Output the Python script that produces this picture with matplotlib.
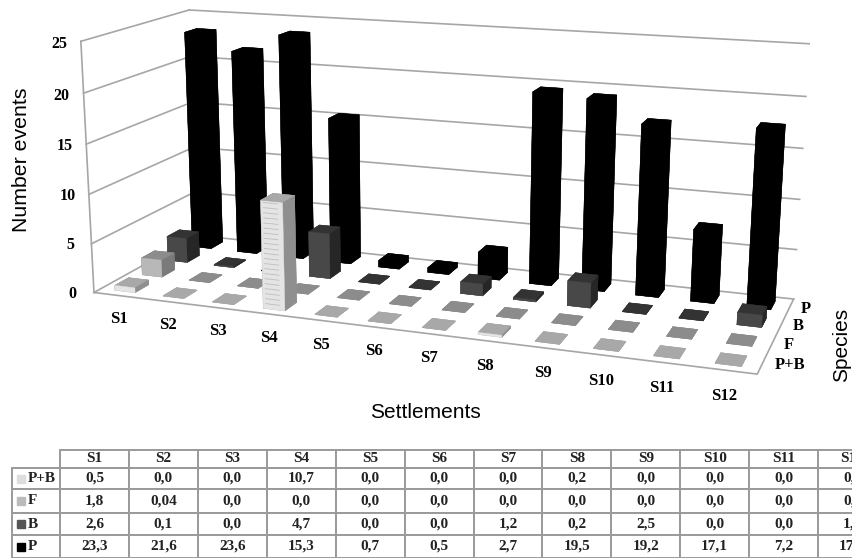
import numpy as np
import matplotlib
matplotlib.use('Agg')
import matplotlib.pyplot as plt
from matplotlib.patches import Rectangle

settlements = ['S1', 'S2', 'S3', 'S4', 'S5', 'S6', 'S7', 'S8', 'S9', 'S10', 'S11', 'S12']
species = ['P+B', 'F', 'B', 'P']

p_b = ['0,5', '0,0', '0,0', '10,7', '0,0', '0,0', '0,0', '0,2', '0,0', '0,0', '0,0', '0,0']
f = ['1,8', '0,04', '0,0', '0,0', '0,0', '0,0', '0,0', '0,0', '0,0', '0,0', '0,0', '0,0']
b = ['2,6', '0,1', '0,0', '4,7', '0,0', '0,0', '1,2', '0,2', '2,5', '0,0', '0,0', '1,2']
p = ['23,3', '21,6', '23,6', '15,3', '0,7', '0,5', '2,7', '19,5', '19,2', '17,1', '7,2', '17,5']
table_rows = [p_b, f, b, p]

z_ticks = [0, 5, 10, 15, 20, 25]

# face colours of each species: front, top, right side
front_colors = ['#e4e4e4', '#b8b8b8', '#484848', '#000000']
top_colors = ['#a8a8a8', '#8c8c8c', '#333333', '#000000']
side_colors = ['#8f8f8f', '#7a7a7a', '#262626', '#000000']
key_colors = ['#dddddd', '#bbbbbb', '#555555', '#000000']

grid_color = '#a6a6a6'
serif = 'Liberation Serif'
sans = 'Liberation Sans'

W, H = 853, 558
fig = plt.figure(figsize=(W / 100, H / 100), dpi=100)

# square axes, the 3d axes insist on that
ax = fig.add_axes([0, 0.5 - W / H / 2, 1, W / H], projection='3d', computed_zorder=False)
ax.set_axis_off()
# ortho only switches off the clipping of lines, the camera below replaces the projection
ax.set_proj_type('ortho')

# camera of the original chart: box corners (x, y, z) and where they sit in the picture
corners_3d = [(0, 0, 0), (12, 0, 0), (12, 4, 0), (0, 4, 0), (0, 0, 25), (12, 4, 25), (0, 4, 25)]
corners_px = [(95, 292), (757, 375), (794, 298), (196, 236), (80, 41), (809, 44), (190, 10)]
rows = []
for (cx, cy, cz), (u, v) in zip(corners_3d, corners_px):
    rows.append([cx, cy, cz, 1, 0, 0, 0, 0, -u * cx, -u * cy, -u * cz, -u])
    rows.append([0, 0, 0, 0, cx, cy, cz, 1, -v * cx, -v * cy, -v * cz, -v])
cam = np.linalg.svd(np.array(rows))[2][-1].reshape(3, 4)

px_to_view = ax.transData.inverted().get_matrix() @ np.array([[1, 0, 0], [0, -1, H], [0, 0, 1]])
cam = px_to_view @ cam
cam = cam / (cam[2] @ [6, 2, 10, 1])
proj = np.vstack([cam[0], cam[1], [-0.1, 1.0, -0.05, 0], cam[2]])
ax.get_proj = lambda: proj

# walls and floor
for z in z_ticks:
    ax.plot([0, 0], [0, 4], [z, z], color=grid_color, lw=1.2, zorder=2)
    ax.plot([0, 12], [4, 4], [z, z], color=grid_color, lw=1.2, zorder=2)
    ax.text(-0.45, 0, z - 0.4, str(z), family=serif, weight='bold', size=11.5, ha='center', va='center')
ax.plot([0, 0], [0, 0], [0, 25], color=grid_color, lw=1.2, zorder=2)
ax.plot([0, 12, 12], [0, 0, 4], [0, 0, 0], color=grid_color, lw=1.2, zorder=2)

# bars
bar_w = 0.42
bar_d = 0.5
for row, values in enumerate(table_rows):
    for col, text in enumerate(values):
        val = float(text.replace(',', '.'))
        x0 = col + 0.5 - bar_w / 2
        y0 = row + 0.5 - bar_d / 2
        # order of bar3d faces: bottom, top, front, back, left, right
        faces = [top_colors[row], top_colors[row], front_colors[row], side_colors[row],
                 side_colors[row], side_colors[row]]
        if val < 0.1:
            faces = [top_colors[row]] * 6
        zo = 10 + (3 - row) * 20 + (11 - col)
        ax.bar3d(x0, y0, 0, bar_w, bar_d, max(val, 0.05), color=faces, edgecolor=faces,
                 linewidth=0.3, shade=False, zorder=zo)
        # ruled front of the big P+B bar
        if row == 0 and val > 5:
            for z in np.arange(0.5, val, 0.5):
                ax.plot([x0 + 0.05, x0 + bar_w - 0.1], [y0, y0], [z, z], color='#bdbdbd', lw=0.6, zorder=zo + 0.5)

# settlement and species names
for i, name in enumerate(settlements):
    ax.text(i + 0.5, 0, -2.4, name, family=serif, weight='bold', size=12, ha='center', va='center')
for i, name in enumerate(species):
    ax.text(12.2, i + 0.5, 0, name, family=serif, weight='bold', size=12, ha='left', va='center')

fig.text(22 / W, 1 - 160 / H, 'Number events', family=sans, size=15.3, rotation=90, ha='center', va='center')
fig.text(425 / W, 1 - 412 / H, 'Settlements', family=sans, size=15, ha='center', va='center')
fig.text(842 / W, 1 - 345 / H, 'Species', family=sans, size=15, rotation=90, ha='center', va='center')

# data table, the last column runs off the picture
left, right, top, bottom = 12, 887, 450, 558
tax = fig.add_axes([left / W, 1 - bottom / H, (right - left) / W, (bottom - top) / H])
tax.set_xlim(left, right)
tax.set_ylim(bottom, top)
tax.axis('off')

cell_text = [[species[i]] + table_rows[i] for i in range(4)]
col_w = [48] + [68.9] * 12
tbl = tax.table(cellText=cell_text, colLabels=[''] + settlements, colWidths=col_w,
                cellLoc='center', bbox=[0, 0, 1, 1])
tbl.auto_set_font_size(False)
row_h = [18, 21, 24, 22, 23]
for (r, c), cell in tbl.get_celld().items():
    cell.set_height(row_h[r])
    cell.set_edgecolor('#9a9a9a')
    cell.set_linewidth(1.4)
    cell.set_text_props(family=serif, weight='bold', size=11, color='#222222')
    if c == 0 and r > 0:
        cell.get_text().set_ha('left')
        cell.PAD = 0.33
        cell._loc = 'left'
tbl[(0, 0)].set_visible(False)

y_pos = top + 18
for i in range(4):
    tax.add_patch(Rectangle((17, y_pos + row_h[i + 1] / 2 - 4), 8, 8, color=key_colors[i], zorder=5))
    y_pos += row_h[i + 1]

fig.savefig('out.png', dpi=100)
